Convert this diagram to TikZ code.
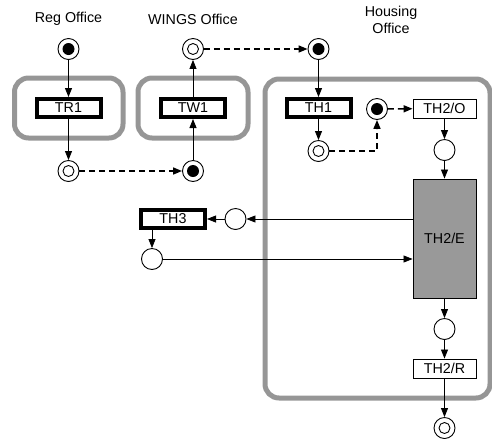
\documentclass[tikz,border=0pt]{standalone}
\usepackage{fontspec}
\setmainfont{Liberation Sans}
\usetikzlibrary{arrows.meta}
\definecolor{grp}{RGB}{150,150,150}
\definecolor{boxgrey}{RGB}{153,153,153}
\begin{document}
\begin{tikzpicture}[x=1pt,y=-1pt,
  every node/.style={font=\fontsize{14.3}{16.5}\selectfont},
  lbl/.style={inner sep=0pt, align=center},
  thickbox/.style={draw, line width=4pt, minimum width=64pt, minimum height=18pt, inner sep=0pt, fill=white},
  thinbox/.style={draw, line width=0.9pt, minimum width=63pt, minimum height=19pt, inner sep=0pt, fill=white},
  greybox/.style={draw, line width=0.9pt, fill=boxgrey, minimum width=63pt, minimum height=119pt, inner sep=0pt},
  place/.style={draw, circle, line width=0.9pt, minimum size=21pt, inner sep=0pt, fill=white},
  token/.style={place, path picture={\fill[black] (path picture bounding box.center) circle (6pt);}},
  hollow/.style={place, path picture={\draw[black, line width=0.9pt] (path picture bounding box.center) circle (5.5pt);}},
  grouprect/.style={draw=grp, line width=5pt, rounded corners=14pt},
  arr/.style={line width=0.8pt, -{Triangle[length=9pt,width=7pt]}},
  darr/.style={line width=1.6pt, dash pattern=on 6pt off 4pt, -{Triangle[length=9pt,width=7pt]}},
]
\useasboundingbox (0,0) rectangle (492,440);

% grouping rectangles
\draw[grouprect] (14.5,78) rectangle (123,138);
\draw[grouprect] (138,78) rectangle (248,138);
\draw[grouprect] (265,79) rectangle (490,398);

% labels
\node[lbl] (lreg) at (68.5,19) {Reg Office};
\node[lbl] (lwings) at (193,19) {WINGS Office};
\node[lbl] (lhous) at (391,20) {Housing\\Office};

% Reg office
\node[token] (pR0) at (68.5,49) {};
\node[thickbox] (TR1) at (68.5,108) {TR1};
\node[hollow] (pR1) at (68.5,171) {};

% WINGS office
\node[token] (pW0) at (193,171) {};
\node[thickbox] (TW1) at (193,108) {TW1};
\node[hollow] (pW1) at (193,49) {};

% Housing office
\node[token] (pH0) at (318.5,49) {};
\node[thickbox] (TH1) at (318.5,108) {TH1};
\node[hollow] (pH1) at (318.5,151) {};
\node[token] (pH2) at (377,109) {};
\node[thinbox] (TH2O) at (444.5,108.5) {TH2/O};
\node[place] (pO) at (444.5,150) {};
\node[greybox] (TH2E) at (444.5,238.5) {TH2/E};
\node[place] (pE1) at (235.5,219) {};
\node[thickbox] (TH3) at (173,219) {TH3};
\node[place] (pT) at (152,259) {};
\node[place] (pE2) at (444.5,329) {};
\node[thinbox] (TH2R) at (444.5,368.5) {TH2/R};
\node[hollow] (pEnd) at (444.5,428) {};

% connectors
\draw[arr] (pR0) -- (TR1);
\draw[arr] (TR1) -- (pR1);
\draw[darr] (pR1) -- (pW0);
\draw[arr] (pW0) -- (TW1);
\draw[arr] (TW1) -- (pW1);
\draw[darr] (pW1) -- (pH0);
\draw[arr] (pH0) -- (TH1);
\draw[arr] (TH1) -- (pH1);
\draw[darr] (pH1) -| (pH2);
\draw[darr] (pH2) -- (TH2O);
\draw[arr] (TH2O) -- (pO);
\draw[arr] (pO) -- (TH2E);
\draw[arr] (TH2E.west |- pE1) -- (pE1);
\draw[arr] (pE1) -- (TH3);
\draw[arr] (TH3.south -| pT) -- (pT);
\draw[arr] (pT) -- (pT -| TH2E.west);
\draw[arr] (TH2E) -- (pE2);
\draw[arr] (pE2) -- (TH2R);
\draw[arr] (TH2R) -- (pEnd);
\end{tikzpicture}
\end{document}
